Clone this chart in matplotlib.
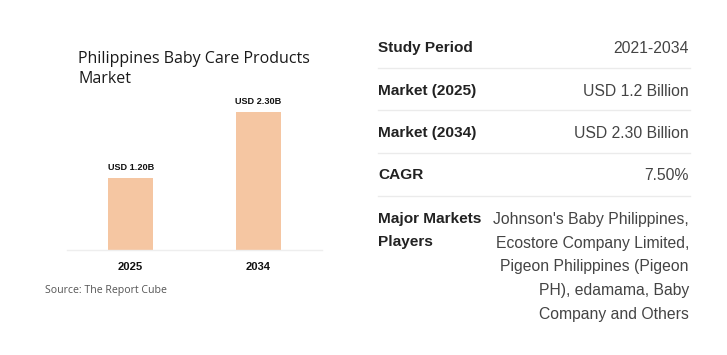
import matplotlib
matplotlib.use("Agg")
import matplotlib.pyplot as plt

categories = ["2025", "2034"]
values = [1.20, 2.30]
bar_labels = ["USD 1.20B", "USD 2.30B"]
title = "Philippines Baby Care Products\nMarket"
source = "Source: The Report Cube"

row_labels = ["Study Period", "Market (2025)", "Market (2034)", "CAGR", "Major Markets\nPlayers"]
row_values = ["2021-2034", "USD 1.2 Billion", "USD 2.30 Billion", "7.50%",
              "Johnson's Baby Philippines,\nEcostore Company Limited,\nPigeon Philippines (Pigeon\nPH), edamama, Baby\nCompany and Others"]

W, H = 727, 355
fig = plt.figure(figsize=(W / 100, H / 100), dpi=100)
fig.patch.set_facecolor("white")

def fx(px):
    return px / W

def fy(py):
    return 1 - py / H

# Bar chart axes: x 67..322, baseline y=250, top y=100
ax = fig.add_axes([fx(67), fy(250), fx(322) - fx(67), (250 - 100) / H])
x = range(len(categories))
ax.bar(x, values, width=0.353, color="#F5C6A2")
ax.set_xlim(-0.5, 1.5)
ax.set_ylim(0, 2.5)
for i, (v, lab) in enumerate(zip(values, bar_labels)):
    ax.annotate(lab, (i, v), xytext=(0, 4.5), textcoords="offset points",
                ha="center", va="bottom", fontsize=6.6, fontweight="bold",
                family="Liberation Sans", color="#111111")
ax.set_xticks(list(x))
ax.set_xticklabels(categories, fontsize=8.1, fontweight="bold", family="Liberation Sans", color="#111111")
ax.tick_params(axis="x", length=0, pad=8.5)
ax.set_yticks([])
for s in ["top", "right", "left"]:
    ax.spines[s].set_visible(False)
ax.spines["bottom"].set_color("#EEEEEE")
ax.spines["bottom"].set_linewidth(1.0)
ax.patch.set_alpha(0)

fig.text(fx(78), fy(51), title, ha="left", va="top", fontsize=11.5,
         family="Open Sans", color="#1a1a1a", linespacing=1.3)
fig.text(fx(45), fy(291), source, ha="left", va="center", fontsize=7.6,
         family="Open Sans", color="#555555")

# Table
row_y = [47, 90, 132, 174, 218]
sep_y = [68, 110, 153, 196]
for lab, val, yy in zip(row_labels, row_values, row_y):
    fig.text(fx(378), fy(yy - 6), lab, ha="left", va="top",
             fontsize=11.1, fontweight="bold", family="Liberation Sans",
             color="#222222", linespacing=1.78)
    fig.text(fx(689), fy(yy - 6), val, ha="right", va="top",
             fontsize=11.3, family="Liberation Sans", color="#444444",
             linespacing=1.72, multialignment="right")
for yy in sep_y:
    fig.add_artist(plt.Line2D([fx(378), fx(690)], [fy(yy), fy(yy)],
                              color="#EBEBEB", linewidth=1.0, transform=fig.transFigure))

fig.savefig("out.png", dpi=100, facecolor="white")
